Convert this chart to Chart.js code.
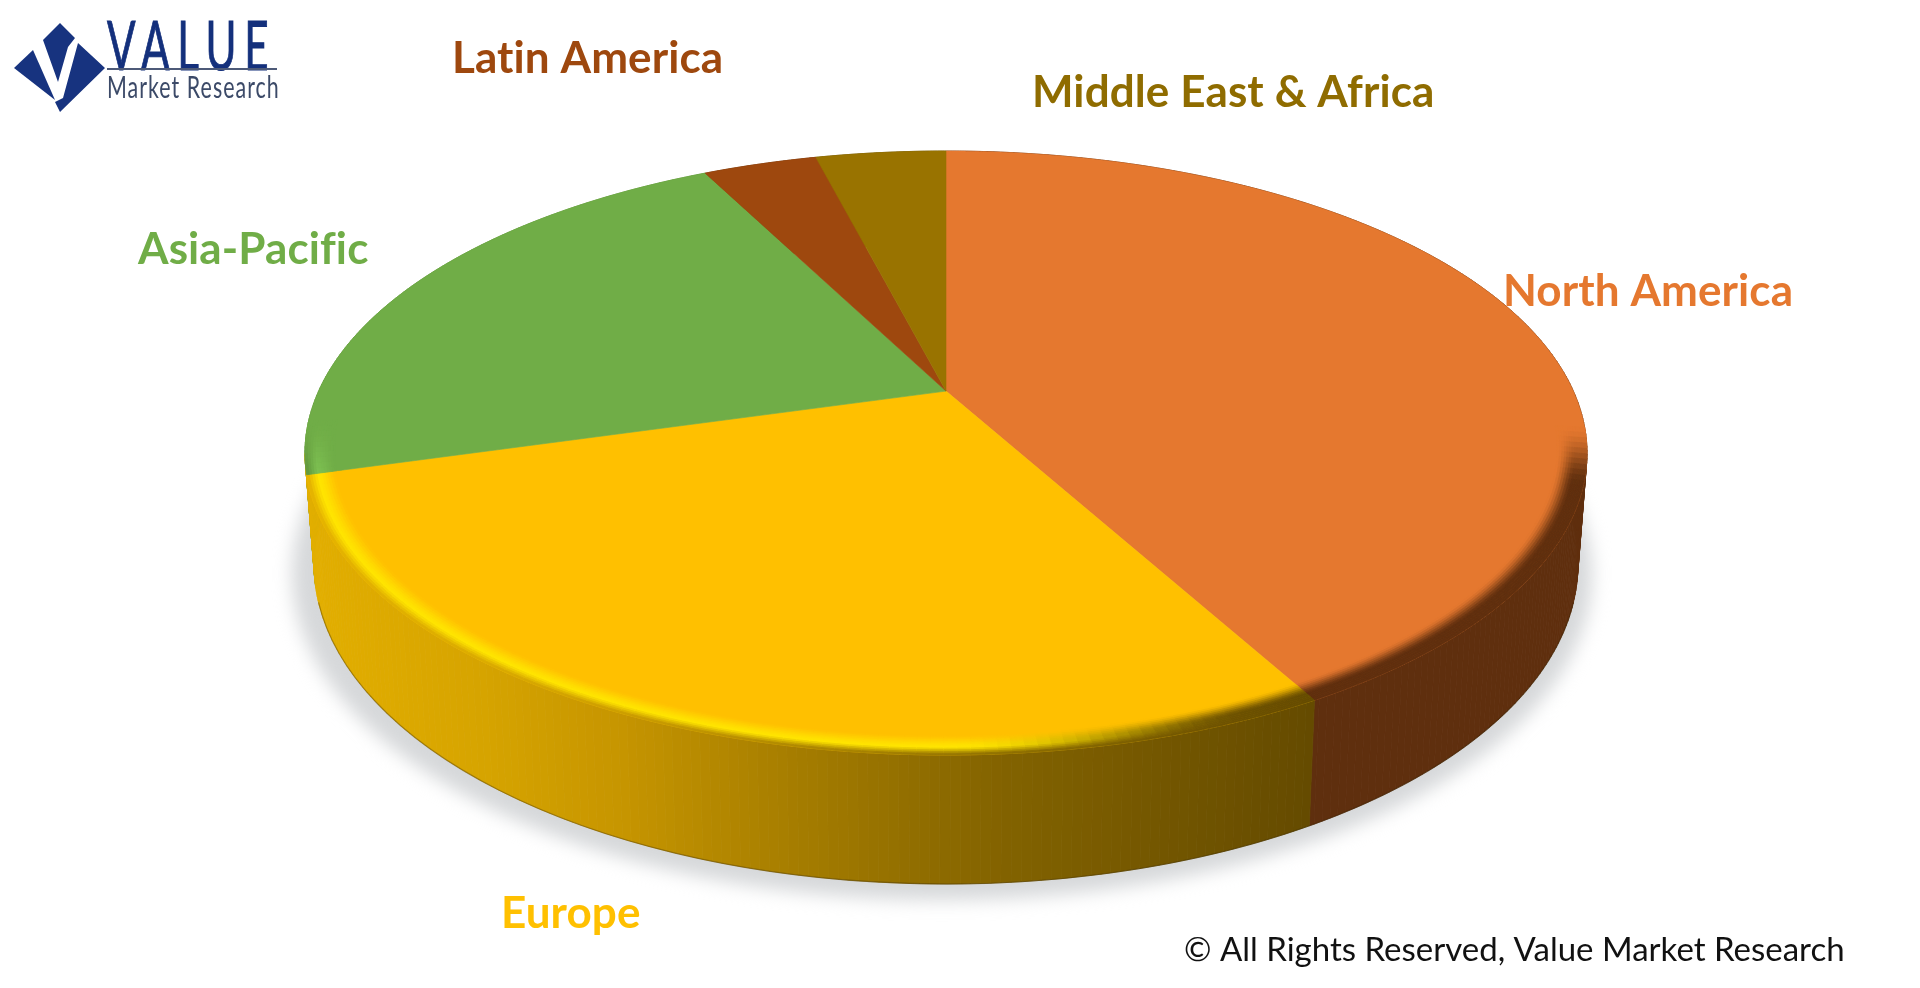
<!DOCTYPE html>
<html>
<head>
<meta charset="utf-8">
<title>Regional share</title>
<script src="https://cdn.jsdelivr.net/npm/chart.js@4"></script>
<style>
  html, body { margin: 0; padding: 0; background: #fff; overflow: hidden; }
  #wrap { position: relative; width: 1920px; height: 988px; }
  #logo { position: absolute; left: 0; top: 0; width: 300px; height: 125px; }
  .value { position: absolute; left: 107px; top: 3px; font: 400 68px Lato, sans-serif; color: #14307c;
           letter-spacing: 12.5px; transform: scaleX(.62); transform-origin: 0 0; white-space: nowrap;
           -webkit-text-stroke: 1px #14307c; }
  .rule { position: absolute; left: 107px; top: 68px; width: 170px; height: 2px; background: #4d5a78; }
  .market { position: absolute; left: 107px; top: 67px; font: 400 31px Lato, sans-serif; color: #3c4a68;
            letter-spacing: 1.5px; transform: scaleX(.69); transform-origin: 0 0; white-space: nowrap; }
</style>
</head>
<body>
<div id="wrap">
  <canvas id="grafico" width="1920" height="988"></canvas>
  <div id="logo">
    <svg width="110" height="120" style="position:absolute;left:0;top:0">
      <g fill="#17337f">
        <polygon points="43,40 60,23 75,38 68,47 58,82"/>
        <polygon points="14,68 33,50 55,100"/>
        <polygon points="78,43 105,68 60,112 55,102 63,98"/>
      </g>
    </svg>
    <div class="value">VALUE</div>
    <div class="rule"></div>
    <div class="market">Market Research</div>
  </div>
</div>
<script>
'use strict';

const categories = ['North America', 'Europe', 'Asia-Pacific', 'Latin America', 'Middle East & Africa'];
const shares = [42, 28.6, 21.9, 3.5, 4];
const topColours = ['#e5782f', '#ffc000', '#70ad47', '#9e480e', '#997300'];
const textColours = ['#e5782f', '#ffc000', '#70ad47', '#9e480e', '#8f6c00'];
const copyright = '© All Rights Reserved, Value Market Research';

// label anchors, left edge and middle line
const labelSpots = [[1503, 292], [501, 914], [138, 250], [452, 59], [1032, 93]];

// the disc, seen in perspective: the apex is not in the middle of the ellipse
const topRim = { cx: 946, cy: 453, rx: 641, ry: 302 };
const botRim = { cx: 946, cy: 564, rx: 632, ry: 320 };
const apexShift = -0.205;

const europeWall = [[310, '#e2ae00'], [480, '#d6a400'], [620, '#c69500'], [780, '#a87f00'], [1000, '#836300'], [1312, '#654b00']];
const flatWalls = ['#5f2f0e', null, '#5e9339', '#6e3208', '#6b5000'];
const rimLights = [null, '#ffe400', '#7dc052', null, null];

function rgb(hex) {
  return [1, 3, 5].map(i => parseInt(hex.substr(i, 2), 16));
}
function mix(a, b, t) {
  t = Math.max(0, Math.min(1, t));
  return [0, 1, 2].map(i => a[i] + (b[i] - a[i]) * t);
}
function css(c) {
  return `rgb(${c.map(Math.round).join(',')})`;
}
function smooth(a, b, x) {
  const t = Math.max(0, Math.min(1, (x - a) / (b - a)));
  return t * t * (3 - 2 * t);
}

function project(angle, r, rim) {
  const u = Math.cos(angle) * r;
  const v = Math.sin(angle) * r;
  const den = 1 + v * apexShift;
  return {
    x: rim.cx + rim.rx * u * Math.sqrt(1 - apexShift * apexShift) / den,
    y: rim.cy + rim.ry * (v + apexShift) / den,
    v: (v + apexShift) / den
  };
}

function wallAt(i, x) {
  if (flatWalls[i]) return rgb(flatWalls[i]);
  for (let k = 1; k < europeWall.length; k++) {
    if (x <= europeWall[k][0]) {
      const a = europeWall[k - 1], b = europeWall[k];
      return mix(rgb(a[1]), rgb(b[1]), (x - a[0]) / (b[0] - a[0]));
    }
  }
  return rgb(europeWall[europeWall.length - 1][1]);
}

function quad(ctx, a, b, c, d, colour) {
  ctx.fillStyle = colour;
  ctx.strokeStyle = colour;
  ctx.lineWidth = 0.8;
  ctx.beginPath();
  ctx.moveTo(a.x, a.y);
  ctx.lineTo(b.x, b.y);
  ctx.lineTo(c.x, c.y);
  ctx.lineTo(d.x, d.y);
  ctx.closePath();
  ctx.fill();
  ctx.stroke();
}

function drawShadow(ctx) {
  ctx.save();
  ctx.filter = 'blur(9px)';
  ctx.fillStyle = '#d6d8da';
  ctx.beginPath();
  ctx.ellipse(942, 574, 650, 326, 0, 0, Math.PI * 2);
  ctx.fill();
  ctx.restore();
}

function drawWalls(ctx, arcs) {
  const step = Math.PI / 240;
  // Europe last and a little past its end, its wall wraps the left corner
  [0, 2, 3, 4, 1].forEach(i => {
    const arc = arcs[i];
    const end = i === 1 ? arc.endAngle + 0.07 : arc.endAngle;
    for (let a = arc.startAngle; a < end; a += step) {
      const b = Math.min(a + step, end);
      const p = project(a, 1, topRim), q = project(b, 1, topRim);
      const r = project(b, 1, botRim), s = project(a, 1, botRim);
      quad(ctx, p, q, r, s, css(wallAt(i, (p.x + q.x) / 2)));
    }
  });
  // thin dark edge where the wall meets the shadow
  ctx.strokeStyle = 'rgba(50,35,0,0.35)';
  ctx.lineWidth = 1.2;
  ctx.beginPath();
  ctx.ellipse(botRim.cx, botRim.cy, botRim.rx, botRim.ry, 0, 0.12, Math.PI - 0.12);
  ctx.stroke();
}

function drawFaces(ctx, arcs) {
  arcs.forEach((arc, i) => {
    ctx.fillStyle = topColours[i];
    ctx.strokeStyle = topColours[i];
    ctx.lineWidth = 0.6;
    ctx.beginPath();
    const apex = project(0, 0, topRim);
    ctx.moveTo(apex.x, apex.y);
    for (let a = arc.startAngle; ; a += 0.005) {
      const p = project(Math.min(a, arc.endAngle), 1, topRim);
      ctx.lineTo(p.x, p.y);
      if (a >= arc.endAngle) break;
    }
    ctx.closePath();
    ctx.fill();
    ctx.stroke();
  });
}

// rounded edge of the disc: a light band on the left, fading to dark on the right
function drawBevel(ctx, arcs) {
  const bands = 12, inner = 0.955, step = Math.PI / 180;
  arcs.forEach((arc, i) => {
    const face = rgb(topColours[i]);
    for (let a = arc.startAngle; a < arc.endAngle; a += step) {
      const b = Math.min(a + step, arc.endAngle);
      for (let n = 0; n < bands; n++) {
        const t = (n + 0.5) / bands;
        const r0 = inner + (1 - inner) * n / bands;
        const r1 = inner + (1 - inner) * (n + 1) / bands;
        const p = project(a, r0, topRim), q = project(b, r0, topRim);
        const r = project(b, r1, topRim), s = project(a, r1, topRim);
        const x = (p.x + q.x) / 2;
        const wall = wallAt(i, x);
        const light = rimLights[i] ? mix(rgb(rimLights[i]), wall, smooth(950, 1250, x)) : wall;
        const edge = t < 0.65 ? mix(face, light, smooth(0, 0.65, t)) : mix(light, wall, (t - 0.65) / 0.35);
        const strength = smooth(-0.1, 0.1, p.v);
        if (strength > 0) quad(ctx, p, q, r, s, css(mix(face, edge, strength)));
      }
    }
  });
}

const disc3d = {
  id: 'disc3d',
  beforeDatasetDraw(chart) {
    const ctx = chart.ctx;
    const arcs = chart.getDatasetMeta(0).data;
    drawShadow(ctx);
    drawWalls(ctx, arcs);
    drawFaces(ctx, arcs);
    drawBevel(ctx, arcs);
    return false;
  },
  afterDraw(chart) {
    const ctx = chart.ctx;
    ctx.save();
    ctx.textBaseline = 'middle';
    ctx.font = '700 44px Lato, sans-serif';
    ctx.letterSpacing = '0.1px';
    categories.forEach((name, i) => {
      ctx.fillStyle = textColours[i];
      ctx.fillText(name, labelSpots[i][0], labelSpots[i][1]);
    });
    ctx.letterSpacing = '0px';
    ctx.font = '400 33px Lato, sans-serif';
    ctx.fillStyle = '#111';
    ctx.fillText(copyright, 1184, 950);
    ctx.restore();
  }
};

new Chart(document.getElementById('grafico'), {
  type: 'pie',
  data: {
    labels: categories,
    datasets: [{ data: shares, backgroundColor: topColours, borderWidth: 0 }]
  },
  options: {
    responsive: false,
    animation: false,
    plugins: { legend: { display: false }, tooltip: { enabled: false } }
  },
  plugins: [disc3d]
});
</script>
</body>
</html>
